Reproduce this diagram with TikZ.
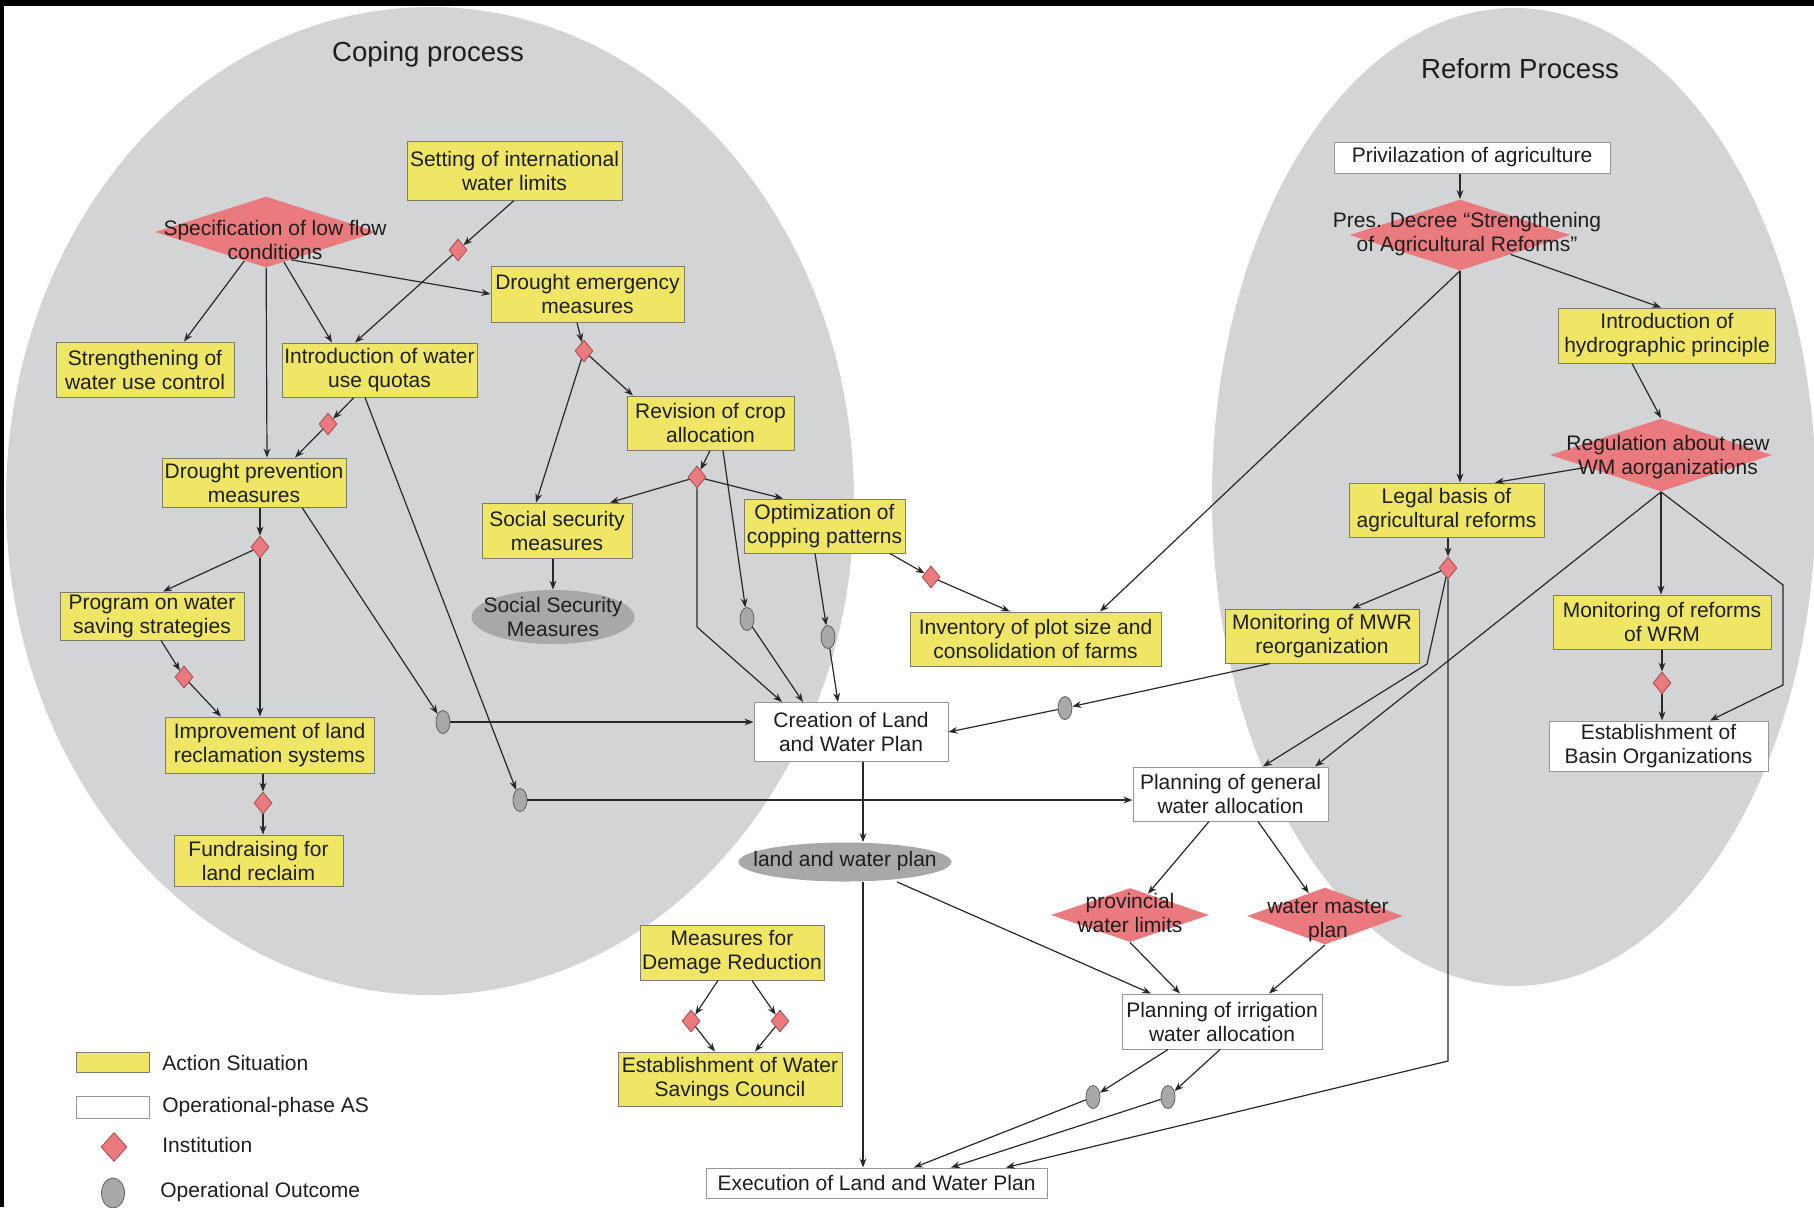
\documentclass[tikz,border=0pt]{standalone}
\usepackage{fontspec}
\setmainfont{Liberation Sans}
\usetikzlibrary{shapes.geometric,arrows.meta}
\definecolor{bgg}{RGB}{211,212,214}
\definecolor{yel}{RGB}{238,230,100}
\definecolor{ybord}{RGB}{125,125,105}
\definecolor{wbord}{RGB}{150,150,150}
\definecolor{redd}{RGB}{234,122,126}
\definecolor{reddk}{RGB}{165,75,80}
\definecolor{og}{RGB}{168,168,170}
\definecolor{ogd}{RGB}{95,95,95}
\definecolor{txt}{RGB}{30,30,30}
\definecolor{linec}{RGB}{40,40,40}
\newcommand\nf{\fontsize{10.5}{12}\selectfont}
\begin{document}
\begin{tikzpicture}[x=0.5pt,y=-0.5pt,
  ybox/.style={draw=ybord,line width=0.5pt,fill=yel,inner sep=0pt,align=center,font=\nf,text=txt},
  wbox/.style={draw=wbord,line width=0.5pt,fill=white,inner sep=0pt,align=center,font=\nf,text=txt},
  bigdia/.style={shape=diamond,fill=redd,inner sep=0pt},
  inst/.style={shape=diamond,fill=redd,draw=reddk,line width=0.4pt,inner sep=0pt,minimum width=9pt,minimum height=11pt},
  outc/.style={shape=ellipse,fill=og,draw=ogd,line width=0.4pt,inner sep=0pt,minimum width=7pt,minimum height=11.5pt},
  gell/.style={shape=ellipse,fill=og,inner sep=0pt},
  dtxt/.style={inner sep=0pt,align=center,font=\nf,text=txt},
  lbl/.style={inner sep=0pt,anchor=west,font=\nf,text=txt},
  ttl/.style={inner sep=0pt,font=\fontsize{13.8}{16}\selectfont,text=txt},
  arr/.style={draw=linec,line width=0.6pt,-{Stealth[length=4.5pt,width=3.4pt]}}]
\useasboundingbox (0,0) rectangle (1814,1207);
\fill[white] (0,0) rectangle (1814,1207);
\fill[black] (0,0) rectangle (1814,6);
\fill[black] (0,0) rectangle (4,1207);
% process ellipses
\node[shape=ellipse,fill=bgg,inner sep=0pt,minimum width=424pt,minimum height=494pt] (copE) at (430,501) {};
\node[shape=ellipse,fill=bgg,inner sep=0pt,minimum width=302pt,minimum height=489pt] (refE) at (1514,497) {};
\node[ttl] (copt) at (428,54) {Coping process};
\node[ttl] (reft) at (1520,69) {Reform Process};
% action situations
\node[ybox,minimum width=107.5pt,minimum height=29.5pt] (set) at (514.5,170.5) {Setting of international\\water limits};
\node[ybox,minimum width=96.5pt,minimum height=28pt] (dem) at (587.5,294) {Drought emergency\\measures};
\node[ybox,minimum width=89pt,minimum height=27.5pt] (str) at (145,369.5) {Strengthening of\\water use control};
\node[ybox,minimum width=97.5pt,minimum height=27pt] (quo) at (379.5,370) {Introduction of water\\use quotas};
\node[ybox,minimum width=83.5pt,minimum height=27pt] (rev) at (710.5,423) {Revision of crop\\allocation};
\node[ybox,minimum width=92pt,minimum height=24.5pt] (dpm) at (254,482.5) {Drought prevention\\measures};
\node[ybox,minimum width=75pt,minimum height=27.5pt] (ssm) at (557,530.5) {Social security\\measures};
\node[ybox,minimum width=80.5pt,minimum height=27pt] (opt) at (824.5,526) {Optimization of\\copping patterns};
\node[ybox,minimum width=92pt,minimum height=24pt] (prg) at (152,616) {Program on water\\saving strategies};
\node[ybox,minimum width=125.5pt,minimum height=27pt] (inv) at (1035.5,639) {Inventory of plot size and\\consolidation of farms};
\node[ybox,minimum width=97pt,minimum height=27pt] (mwr) at (1322,636) {Monitoring of MWR\\reorganization};
\node[ybox,minimum width=104.5pt,minimum height=28pt] (imp) at (269.5,745) {Improvement of land\\reclamation systems};
\node[ybox,minimum width=84.5pt,minimum height=25.5pt] (fund) at (258.5,860.5) {Fundraising for\\land reclaim};
\node[ybox,minimum width=92pt,minimum height=27.5pt] (mea) at (732,952.5) {Measures for\\Demage Reduction};
\node[ybox,minimum width=112pt,minimum height=27pt] (cou) at (730,1079) {Establishment of Water\\Savings Council};
\node[ybox,minimum width=108.5pt,minimum height=27.5pt] (hyd) at (1667,335.5) {Introduction of\\hydrographic principle};
\node[ybox,minimum width=97.5pt,minimum height=27pt] (leg) at (1446.5,510) {Legal basis of\\agricultural reforms};
\node[ybox,minimum width=109pt,minimum height=27pt] (mon) at (1662,622) {Monitoring of reforms\\of WRM};
% operational-phase AS
\node[wbox,minimum width=97pt,minimum height=29.5pt] (cre) at (851,732) {Creation of Land\\and Water Plan};
\node[wbox,minimum width=97.5pt,minimum height=27pt] (pga) at (1230.5,794) {Planning of general\\water allocation};
\node[wbox,minimum width=100pt,minimum height=27.5pt] (pia) at (1222,1021.5) {Planning of irrigation\\water allocation};
\node[wbox,minimum width=170.5pt,minimum height=15pt] (exe) at (876.5,1183) {Execution of Land and Water Plan};
\node[wbox,minimum width=138pt,minimum height=15.5pt] (pri) at (1472,157.5) {Privilazation of agriculture};
\node[wbox,minimum width=109.5pt,minimum height=25pt] (est) at (1658.5,746) {Establishment of\\Basin Organizations};
% institutions (large)
\node[bigdia,minimum width=111pt,minimum height=35.5pt] (spec) at (266,232) {};
\node[dtxt] (spect) at (275,240) {Specification of low flow\\conditions};
\node[bigdia,minimum width=110.5pt,minimum height=35.5pt] (pres) at (1460,235) {};
\node[dtxt] (prest) at (1467,234) {Pres. Decree “Strengthening\\of Agricultural Reforms”};
\node[bigdia,minimum width=111pt,minimum height=36.5pt] (reg) at (1661,455) {};
\node[dtxt] (regt) at (1668,457) {Regulation about new\\WM aorganizations};
\node[bigdia,minimum width=79pt,minimum height=27pt] (prov) at (1130,915) {};
\node[dtxt] (provt) at (1130,913) {provincial\\water limits};
\node[bigdia,minimum width=78pt,minimum height=28.5pt] (wmp) at (1325,916) {};
\node[dtxt] (wmpt) at (1328,921) {water master\\plan};
% institutions (small)
\node[inst] (d1) at (458,250) {};
\node[inst] (d2) at (584,351) {};
\node[inst] (d3) at (328,424) {};
\node[inst] (d4) at (697,477) {};
\node[inst] (d5) at (260,547) {};
\node[inst] (d6) at (184,677) {};
\node[inst] (d7) at (263,803) {};
\node[inst] (d8) at (931,577) {};
\node[inst] (d9) at (1448,568) {};
\node[inst] (d10) at (1662,683) {};
\node[inst] (d11) at (691,1021) {};
\node[inst] (d12) at (780,1021) {};
% operational outcomes
\node[outc] (o1) at (443,722) {};
\node[outc] (o2) at (520,800) {};
\node[outc] (o3) at (747,619) {};
\node[outc] (o4) at (828,637) {};
\node[outc] (o5) at (1065,708) {};
\node[outc] (o6) at (1093,1097) {};
\node[outc] (o7) at (1168,1097) {};
\node[gell,minimum width=81.5pt,minimum height=27pt] (ssE) at (553,617) {};
\node[dtxt] (ssEt) at (553,617) {Social Security\\Measures};
\node[gell,minimum width=106.5pt,minimum height=19.5pt] (lwp) at (845,862) {};
\node[dtxt] (lwpt) at (845,861) {land and water plan};
% connectors: coping process
\draw[arr] (spec) -- (184,0 |- str.north);
\draw[arr] (spec) -- (267,0 |- dpm.north);
\draw[arr] (spec) -- (332,0 |- quo.north);
\draw[arr] (spec.-48) -- (dem.west);
\draw[arr] (514,0 |- set.south) -- (d1);
\draw[arr] (d1) -- (355,0 |- quo.north);
\draw[arr] (577,0 |- dem.south) -- (d2);
\draw[arr] (d2) -- (536,0 |- ssm.north);
\draw[arr] (d2) -- (633,0 |- rev.north);
\draw[arr] (710,0 |- rev.south) -- (d4);
\draw[arr] (d4) -- (610,0 |- ssm.north);
\draw[arr] (d4) -- (783,0 |- opt.north);
\draw[arr] (d4) -- (697,627) -- (782,0 |- cre.north);
\draw[arr] (723,0 |- rev.south) -- (o3);
\draw[arr] (o3) -- (803,0 |- cre.north);
\draw[arr] (815,0 |- opt.south) -- (o4);
\draw[arr] (o4) -- (838,0 |- cre.north);
\draw[arr] (890,0 |- opt.south) -- (d8);
\draw[arr] (d8) -- (1010,0 |- inv.north);
\draw[arr] (302,0 |- dpm.south) -- (o1);
\draw[arr] (o1) -- (cre.west |- o1);
\draw[arr] (365,0 |- quo.south) -- (o2);
\draw[arr] (o2) -- (pga.west |- o2);
\draw[arr] (354,0 |- quo.south) -- (d3);
\draw[arr] (d3) -- (295,0 |- dpm.north);
\draw[arr] (d5 |- dpm.south) -- (d5);
\draw[arr] (d5) -- (163,0 |- prg.north);
\draw[arr] (d5) -- (d5 |- imp.north);
\draw[arr] (161,0 |- prg.south) -- (d6);
\draw[arr] (d6) -- (221,0 |- imp.north);
\draw[arr] (d7 |- imp.south) -- (d7);
\draw[arr] (d7) -- (d7 |- fund.north);
\draw[arr] (ssE |- ssm.south) -- (ssE.north);
\draw[arr] (1270,0 |- mwr.south) -- (o5);
\draw[arr] (o5) -- (cre.east);
\draw[arr] (863,0 |- cre.south) -- (863,0 |- lwp.north);
\draw[arr] (863,0 |- lwp.south) -- (863,0 |- exe.north);
\draw[arr] (897,0 |- lwp.south) -- (1151,0 |- pia.north);
\draw[arr] (1209,0 |- pga.south) -- (prov);
\draw[arr] (1258,0 |- pga.south) -- (wmp);
\draw[arr] (prov.south) -- (1180,0 |- pia.north);
\draw[arr] (wmp.south) -- (1269,0 |- pia.north);
\draw[arr] (1168,0 |- pia.south) -- (o6);
\draw[arr] (o6) -- (914,0 |- exe.north);
\draw[arr] (1220,0 |- pia.south) -- (o7);
\draw[arr] (o7) -- (951,0 |- exe.north);
\draw[arr] (d9) -- (d9 |- 0,1061) -- (1006,0 |- exe.north);
\draw[arr] (718,0 |- mea.south) -- (d11);
\draw[arr] (d11) -- (715,0 |- cou.north);
\draw[arr] (752,0 |- mea.south) -- (d12);
\draw[arr] (d12) -- (755,0 |- cou.north);
% connectors: reform process
\draw[arr] (pres |- pri.south) -- (pres.north);
\draw[arr] (pres.south) -- (1100,0 |- inv.north);
\draw[arr] (pres.south) -- (pres |- leg.north);
\draw[arr] (pres.-21) -- (1661,0 |- hyd.north);
\draw[arr] (1632,0 |- hyd.south) -- (reg.north);
\draw[arr] (reg) -- (1495,0 |- leg.north);
\draw[arr] (reg.south) -- (1315,0 |- pga.north);
\draw[arr] (reg.south) -- (reg |- mon.north);
\draw[arr] (reg.south) -- (1783,585) -- (1783,685) -- (1710,0 |- est.north);
\draw[arr] (d10 |- mon.south) -- (d10);
\draw[arr] (d10) -- (d10 |- est.north);
\draw[arr] (d9 |- leg.south) -- (d9);
\draw[arr] (d9) -- (1352,0 |- mwr.north);
\draw[arr] (d9) -- (1427,664) -- (1263,0 |- pga.north);
% legend
\node[ybox,minimum width=36.5pt,minimum height=10pt] (lgy) at (112.5,1062) {};
\node[lbl] (lgyt) at (162,1063) {Action Situation};
\node[wbox,minimum width=36.5pt,minimum height=11pt] (lgw) at (112.5,1107) {};
\node[lbl] (lgwt) at (162,1107) {Operational-phase AS};
\node[inst,minimum width=13pt,minimum height=14.5pt] (lgd) at (114,1147) {};
\node[lbl] (lgdt) at (162,1145) {Institution};
\node[outc,minimum width=11.5pt,minimum height=15pt] (lgo) at (113,1193) {};
\node[lbl] (lgot) at (160,1192) {Operational Outcome};
\end{tikzpicture}
\end{document}
